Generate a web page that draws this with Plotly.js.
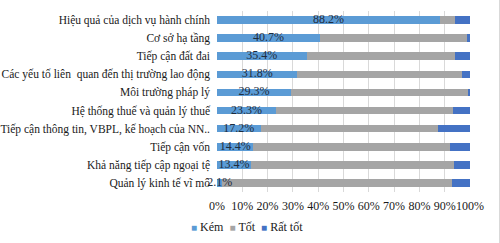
<!DOCTYPE html>
<html>
<head>
<meta charset="utf-8">
<script src="https://cdn.plot.ly/plotly-3.0.1.min.js"></script>
<style>
html,body{margin:0;padding:0;background:#fff;}
#chart{width:499px;height:243px;border-right:1px solid #d9d9d9;}
</style>
</head>
<body>
<div id="chart"></div>
<script>
const categories = [
  "Hiệu quả của dịch vụ hành chính",
  "Cơ sở hạ tầng",
  "Tiếp cận đất đai",
  "Các yếu tố liên  quan đến thị trường lao động",
  "Môi trường pháp lý",
  "Hệ thống thuế và quản lý thuế",
  "Tiếp cận thông tin, VBPL, kế hoạch của NN..",
  "Tiếp cận vốn",
  "Khả năng tiếp cập ngoại tệ",
  "Quản lý kinh tế vĩ mô"
];
const kem    = [88.2, 40.7, 35.4, 31.8, 29.3, 23.3, 17.2, 14.4, 13.4, 2.1];
const tot    = [5.9, 58.0, 58.7, 65.2, 69.8, 70.1, 70.3, 77.7, 80.4, 90.7];
const ratTot = [5.9, 1.3, 5.9, 3.0, 0.9, 6.6, 12.5, 7.9, 6.2, 7.2];
const seriesNames = ["Kém", "Tốt", "Rất tốt"];
const tickVals = [0,10,20,30,40,50,60,70,80,90,100];
const tickText = tickVals.map(v => v + "%");

const font = "'Liberation Serif', 'Times New Roman', serif";
const colors = ["#5b9bd5", "#a5a5a5", "#4472c4"];
const barW = 0.42;

const traces = [kem, tot, ratTot].map((vals, i) => ({
  type: "bar", orientation: "h",
  name: seriesNames[i], x: vals, y: categories,
  marker: {color: colors[i]}, width: barW, hoverinfo: "skip", showlegend: false
}));
traces.push({
  type: "scatter", mode: "text", showlegend: false,
  x: kem.map(v => v / 2), y: categories,
  text: kem.map(v => v.toFixed(1) + "%"),
  textfont: {family: font, size: 12, color: "#1f2d3d"},
  textposition: "middle center", hoverinfo: "skip", cliponaxis: false
});

const legendText = seriesNames.map((n, i) =>
  '<span style="color:' + colors[i] + ';font-size:10px">■</span>&nbsp;' + n).join("&nbsp;&nbsp;");

const layout = {
  width: 499, height: 243,
  margin: {l: 217, r: 29, t: 11, b: 51},
  barmode: "stack",
  paper_bgcolor: "#fff", plot_bgcolor: "#fff",
  font: {family: font, size: 11.5, color: "#1a1a1a"},
  showlegend: false,
  annotations: [{
    xref: "paper", yref: "paper", x: 0.118, y: -0.193,
    xanchor: "center", yanchor: "middle", showarrow: false,
    text: legendText, font: {family: font, size: 12, color: "#1a1a1a"}
  }],
  xaxis: {
    range: [0, 100], tickvals: tickVals, ticktext: tickText,
    showgrid: true, gridcolor: "#d9d9d9", gridwidth: 1,
    zeroline: false, showline: false, ticks: "", tickangle: 0,
    ticklabelstandoff: 5,
    tickfont: {family: font, size: 12, color: "#1a1a1a"},
    fixedrange: true
  },
  yaxis: {
    categoryorder: "array", categoryarray: categories,
    autorange: "reversed", showgrid: false, zeroline: false,
    showline: false, ticks: "", ticklabelstandoff: 6,
    tickfont: {family: font, size: 11.5, color: "#1a1a1a"},
    fixedrange: true
  }
};

Plotly.newPlot("chart", traces, layout, {displayModeBar: false, staticPlot: true});
</script>
</body>
</html>
